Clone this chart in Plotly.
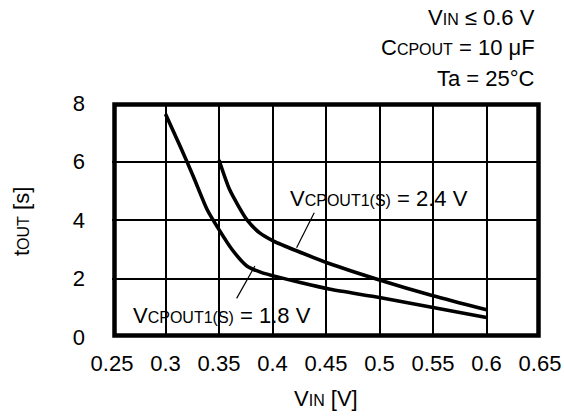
import plotly.graph_objects as go

vin_18 = [0.300, 0.314, 0.326, 0.339, 0.350, 0.362, 0.376, 0.390, 0.401, 0.426, 0.454, 0.500, 0.550, 0.600]
tout_18 = [7.62, 6.50, 5.49, 4.35, 3.67, 3.00, 2.43, 2.20, 2.09, 1.86, 1.63, 1.35, 1.01, 0.67]

vin_24 = [0.350, 0.360, 0.376, 0.388, 0.401, 0.423, 0.451, 0.500, 0.550, 0.600]
tout_24 = [6.05, 5.03, 4.01, 3.56, 3.28, 2.94, 2.54, 1.95, 1.41, 0.93]

x_ticks = [0.25, 0.3, 0.35, 0.4, 0.45, 0.5, 0.55, 0.6, 0.65]
x_labels = ["0.25", "0.3", "0.35", "0.4", "0.45", "0.5", "0.55", "0.6", "0.65"]
y_ticks = [0, 2, 4, 6, 8]

FONT = "Liberation Sans, Arial, sans-serif"
FS = 22
SUB = '<span style="font-size:16px">{}</span>'

W, H = 564, 416
L, R, T, B = 112, 24, 103, 79
PW, PH = W - L - R, H - T - B


def px_to_paper(px, py):
    return (px - L) / PW, (H - py - B) / PH


fig = go.Figure()
for xs, ys in [(vin_18, tout_18), (vin_24, tout_24)]:
    fig.add_trace(go.Scatter(x=xs, y=ys, mode="lines",
                             line=dict(color="black", width=3.6, shape="spline", smoothing=0.6),
                             showlegend=False, hoverinfo="skip"))

# frame
x0, y0 = px_to_paper(114.5, 335.5)
x1, y1 = px_to_paper(538.5, 104.5)
fig.add_shape(type="rect", xref="paper", yref="paper", x0=x0, y0=y0, x1=x1, y1=y1,
              line=dict(color="black", width=4.5), layer="above")

# leader lines
fig.add_shape(type="line", xref="x", yref="y", x0=0.4225, y0=3.05, x1=0.439, y1=4.25,
              line=dict(color="black", width=1.2))
fig.add_shape(type="line", xref="x", yref="y", x0=0.3665, y0=1.32, x1=0.3835, y1=2.43,
              line=dict(color="black", width=1.2))

fig.add_annotation(x=0.4995, y=4.75, xref="x", yref="y", showarrow=False,
                   xanchor="center", yanchor="middle",
                   text="V" + SUB.format("CPOUT1(S)") + " = 2.4 V",
                   font=dict(size=FS, color="black", family=FONT))
fig.add_annotation(x=0.353, y=0.72, xref="x", yref="y", showarrow=False,
                   xanchor="center", yanchor="middle",
                   text="V" + SUB.format("CPOUT1(S)") + " = 1.8 V",
                   font=dict(size=FS, color="black", family=FONT))

# condition text top-right
conds = ["V" + SUB.format("IN") + " ≤ 0.6 V",
         "C" + SUB.format("CPOUT") + " = 10 μF",
         "Ta = 25°C"]
for i, t in enumerate(conds):
    ax, ay = px_to_paper(537, 17 + 31 * i)
    fig.add_annotation(x=ax, y=ay, xref="paper", yref="paper",
                       showarrow=False, text=t, xanchor="right", yanchor="middle",
                       font=dict(size=FS, color="black", family=FONT))

# axis titles as annotations
tx, ty = px_to_paper(326, 398)
fig.add_annotation(x=tx, y=ty, xref="paper", yref="paper", showarrow=False,
                   xanchor="center", yanchor="middle",
                   text="V" + SUB.format("IN") + " [V]",
                   font=dict(size=FS, color="black", family=FONT))
tx, ty = px_to_paper(21, 222)
fig.add_annotation(x=tx, y=ty, xref="paper", yref="paper", showarrow=False, textangle=-90,
                   xanchor="center", yanchor="middle",
                   text="t" + SUB.format("OUT") + " [s]",
                   font=dict(size=FS, color="black", family=FONT))

fig.update_layout(
    width=W, height=H,
    margin=dict(l=L, r=R, t=T, b=B),
    paper_bgcolor="white", plot_bgcolor="white",
    font=dict(family=FONT, size=FS, color="black"),
    xaxis=dict(range=[0.25, 0.65], tickvals=x_ticks, ticktext=x_labels,
               showgrid=True, gridcolor="black", gridwidth=1.5,
               showline=False, zeroline=False, ticks="", ticklabelstandoff=11,
               automargin=False, fixedrange=True),
    yaxis=dict(range=[0, 8], tickvals=y_ticks,
               showgrid=True, gridcolor="black", gridwidth=1.5,
               showline=False, zeroline=False, ticks="", ticklabelstandoff=26,
               automargin=False, fixedrange=True),
)

fig.write_html("out.html", config={"displayModeBar": False},
               post_script="document.body.style.margin='0px';document.body.style.overflow='hidden';")
